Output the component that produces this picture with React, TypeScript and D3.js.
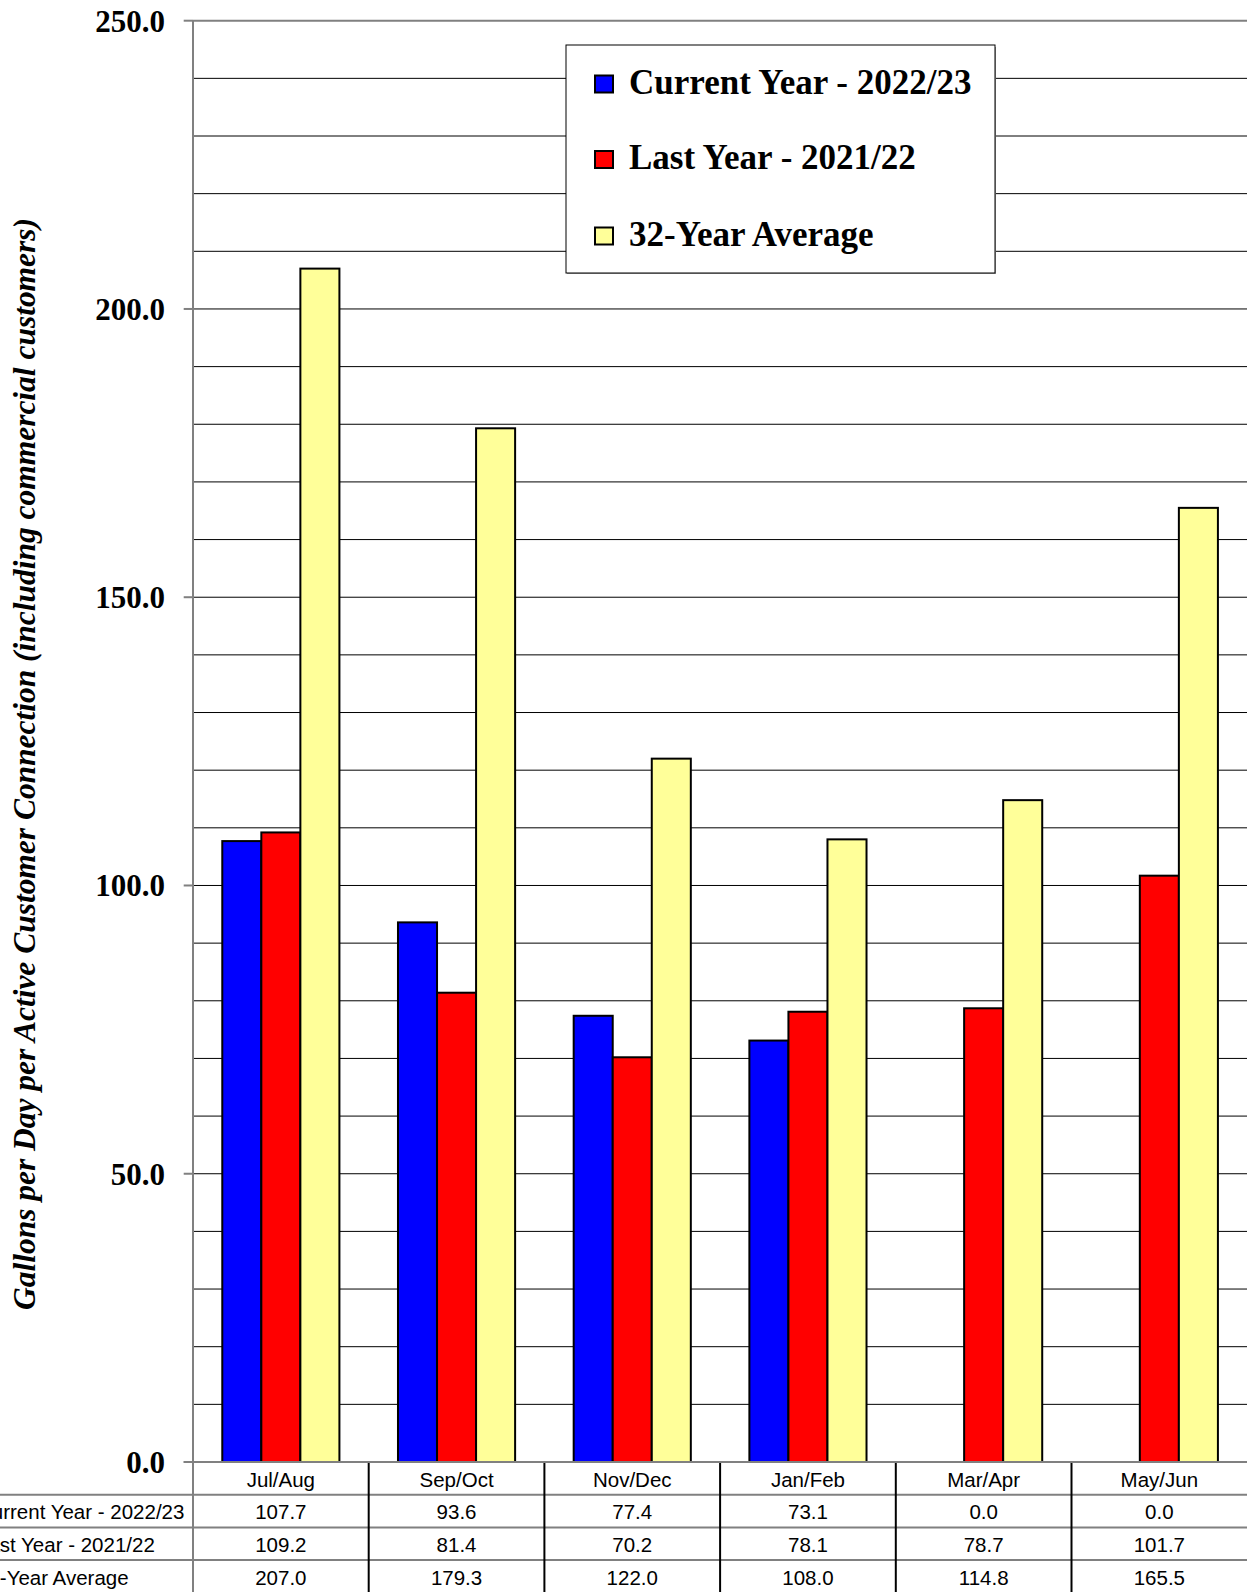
import React from "react";
import * as d3 from "d3";

const categories = ["Jul/Aug", "Sep/Oct", "Nov/Dec", "Jan/Feb", "Mar/Apr", "May/Jun"];
const seriesNames = ["Current Year - 2022/23", "Last Year - 2021/22", "32-Year Average"];
const currentYear = [107.7, 93.6, 77.4, 73.1, 0.0, 0.0];
const lastYear = [109.2, 81.4, 70.2, 78.1, 78.7, 101.7];
const avg32 = [207.0, 179.3, 122.0, 108.0, 114.8, 165.5];
const seriesColors = ["#0000FF", "#FF0000", "#FFFF99"];
const yTicks = [0, 50, 100, 150, 200, 250];
const yLabel = "Gallons per Day per Active Customer Connection (including commercial customers)";

const W = 1247;
const H = 1592;

export default function App() {
  const series = [currentYear, lastYear, avg32];
  const plotLeft = 193;
  const plotRight = 1247.2;
  const plotTop = 20.7;
  const plotBottom = 1462;
  const y = d3.scaleLinear().domain([0, 250]).range([plotBottom, plotTop]);
  const x = d3.scaleBand().domain(categories).range([plotLeft, plotRight]).padding(0);
  const bw = x.bandwidth();
  const barW = bw / 4.5;
  const minor = d3.range(10, 250, 10);
  const rowH = 32.7;
  const tableFont = "'Liberation Sans', Arial, sans-serif";
  const serif = "'Liberation Serif', 'Times New Roman', serif";

  return (
    <svg
      width={W}
      height={H}
      style={{ position: "absolute", left: 0, top: 0, background: "#fff" }}
    >
      <rect x={0} y={0} width={W} height={H} fill="#fff" />
      {/* gridlines */}
      {minor.map((v) => (
        <line key={"g" + v} x1={plotLeft} x2={plotRight} y1={y(v)} y2={y(v)} stroke="#000" strokeWidth={1} />
      ))}
      <line x1={plotLeft} x2={plotRight} y1={y(250)} y2={y(250)} stroke="#808080" strokeWidth={2} />
      {/* bars */}
      {categories.map((c, i) => (
        <g key={c}>
          {series.map((s, k) =>
            s[i] > 0 ? (
              <rect
                key={k}
                x={(x(c) as number) + 0.75 * barW + k * barW}
                y={y(s[i])}
                width={barW}
                height={y(0) - y(s[i])}
                fill={seriesColors[k]}
                stroke="#000"
                strokeWidth={2}
              />
            ) : null
          )}
        </g>
      ))}
      {/* y axis */}
      <line x1={plotLeft} x2={plotLeft} y1={plotTop} y2={H} stroke="#808080" strokeWidth={2} />
      {yTicks.map((t) => (
        <g key={"t" + t}>
          <line x1={183.7} x2={plotLeft} y1={y(t)} y2={y(t)} stroke="#808080" strokeWidth={2} />
          <text
            x={165}
            y={y(t)}
            dy="0.35em"
            textAnchor="end"
            fontFamily={serif}
            fontWeight="bold"
            fontSize={31}
          >
            {t.toFixed(1)}
          </text>
        </g>
      ))}
      {/* y label */}
      <text
        transform={`translate(35,764) rotate(-90)`}
        textAnchor="middle"
        fontFamily={serif}
        fontWeight="bold"
        fontStyle="italic"
        fontSize={32}
        textLength={1092}
        lengthAdjust="spacingAndGlyphs"
      >
        {yLabel}
      </text>
      {/* table */}
      {[1, 2, 3].map((r) => (
        <line
          key={"r" + r}
          x1={0}
          x2={W}
          y1={plotBottom + r * rowH}
          y2={plotBottom + r * rowH}
          stroke="#808080"
          strokeWidth={2}
        />
      ))}
      {categories.slice(1).map((c) => (
        <line key={"v" + c} x1={x(c)} x2={x(c)} y1={plotBottom} y2={H} stroke="#000" strokeWidth={2} />
      ))}
      <line x1={183.7} x2={plotRight} y1={plotBottom} y2={plotBottom} stroke="#808080" strokeWidth={2} />
      {categories.map((c) => (
        <text
          key={"c" + c}
          x={(x(c) as number) + bw / 2}
          y={plotBottom + 24.7}
          textAnchor="middle"
          fontFamily={tableFont}
          fontSize={20.5}
        >
          {c}
        </text>
      ))}
      {series.map((s, k) => (
        <g key={"row" + k}>
          <text x={-23} y={plotBottom + (k + 1) * rowH + 24.4} fontFamily={tableFont} fontSize={20.5}>
            {seriesNames[k]}
          </text>
          {categories.map((c, i) => (
            <text
              key={c}
              x={(x(c) as number) + bw / 2}
              y={plotBottom + (k + 1) * rowH + 24.4}
              textAnchor="middle"
              fontFamily={tableFont}
              fontSize={20.5}
            >
              {s[i].toFixed(1)}
            </text>
          ))}
        </g>
      ))}
      {/* legend */}
      <rect x={567} y={47} width={429} height={227} fill="#a0a0a0" />
      <rect x={566} y={45} width={429} height={228} fill="#fff" stroke="#000" strokeWidth={1} />
      {seriesNames.map((n, k) => {
        const cy = [84, 159.5, 236][k];
        return (
          <g key={"l" + k}>
            <rect x={595} y={cy - 8.5} width={18} height={17} fill={seriesColors[k]} stroke="#000" strokeWidth={2} />
            <text x={629} y={cy + 9.5} fontFamily={serif} fontWeight="bold" fontSize={35}>
              {n}
            </text>
          </g>
        );
      })}
    </svg>
  );
}
